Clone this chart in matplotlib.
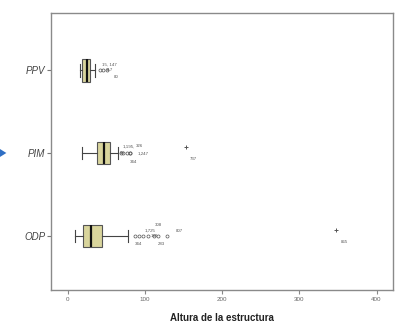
import matplotlib
matplotlib.use("Agg")
import matplotlib.pyplot as plt
from matplotlib.patches import Polygon

plt.rcParams['font.family'] = ['Liberation Sans', 'DejaVu Sans']

# grupos (de abajo hacia arriba)
grupos = ["ODP", "PIM", "PPV"]
q1 = [19.5, 37.5, 18.0]
mediana = [30.0, 46.5, 24.5]
q3 = [44.0, 54.5, 29.0]
bigote_inf = [9.0, 18.0, 16.0]
bigote_sup = [77.5, 65.0, 35.0]

# valores atipicos (o) y extremos (*) con su numero de caso
atipicos = [
    [87, 92, 97, 104, 112, 117, 129],
    [69, 72, 76, 80, 81],
    [41, 46, 51],
]
etiq_atipicos = [
    ["344", "1,725", "o", "180", "308", "283", "807"],
    ["1,195,", "326", "80", "344", "1,247"],
    ["15, 147", "317", "80"],
]
extremos = [[348], [153], []]
etiq_extremos = [["865"], ["737"], []]

# desplazamiento de cada etiqueta (puntos)
desp = [
    [(0, -6), (4, 4), (0, 0), (2, 0), (0, 8), (0, -6), (6, 4)],
    [(1, 5), (9, 5), (-5, 0), (0, -6), (5, 0)],
    [(2, 4), (2, 0), (5, -5)],
]

fig = plt.figure(figsize=(3.98, 3.29), dpi=100)
ax = fig.add_axes([0.128, 0.1185, 0.859, 0.8415])

stats = []
for i in range(len(grupos)):
    stats.append({
        "label": grupos[i], "med": mediana[i], "q1": q1[i], "q3": q3[i],
        "whislo": bigote_inf[i], "whishi": bigote_sup[i], "fliers": atipicos[i],
    })

pos = [1, 2, 3]
ax.bxp(stats, positions=pos, vert=False, widths=0.27, patch_artist=True,
       boxprops=dict(facecolor="#d9d59c", edgecolor="#555555", linewidth=0.8),
       medianprops=dict(color="#111111", linewidth=1.6),
       whiskerprops=dict(color="#444444", linewidth=0.8),
       capprops=dict(color="#444444", linewidth=0.8),
       capwidths=0.15,
       flierprops=dict(marker="o", markersize=2.2, markerfacecolor="none",
                       markeredgecolor="#555555", markeredgewidth=0.5))

for i, p in enumerate(pos):
    for v, t, d in zip(atipicos[i], etiq_atipicos[i], desp[i]):
        if t == "o":
            continue
        ax.annotate(t, (v, p), xytext=d, textcoords="offset points",
                    fontsize=3.2, color="#555555", ha="left", va="center")
    for v, t in zip(extremos[i], etiq_extremos[i]):
        ax.plot(v, p + 0.08, marker="+", markersize=3, color="#555555",
                markeredgewidth=0.7, linestyle="none")
        ax.annotate(t, (v, p), xytext=(3, -4), textcoords="offset points",
                    fontsize=3.2, color="#555555", ha="left", va="center")

ax.set_xlim(-22, 421)
ax.set_ylim(0.35, 3.69)
ax.set_xticks([0, 100, 200, 300, 400])
ax.set_xticklabels(["0", "100", "200", "300", "400"])
ax.set_yticks(pos)
ax.set_yticklabels(grupos, fontsize=7, color="#444444", style="italic")
ax.tick_params(axis="x", labelsize=4.5, labelcolor="#666666", length=3,
               color="#888888", pad=2)
ax.tick_params(axis="y", length=3, color="#777777", pad=1)
for s in ax.spines.values():
    s.set_color("#8a8a8a")
    s.set_linewidth(1.0)

ax.set_xlabel("Altura de la estructura", fontsize=7, fontweight="bold",
              color="#222222", labelpad=8)

# flecha azul en el borde izquierdo
fig.patches.append(Polygon([[0.0, 0.547], [0.016, 0.535], [0.0, 0.523]],
                           closed=True, transform=fig.transFigure,
                           facecolor="#2f6fc4", edgecolor="none"))

fig.savefig("out.png", dpi=100)
